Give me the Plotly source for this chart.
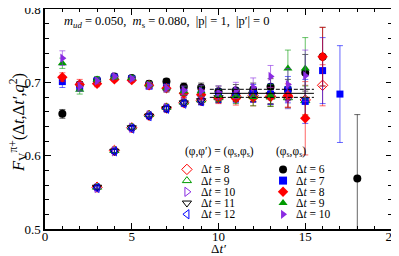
import plotly.graph_objects as go

# ---------------- data ----------------
# filled symbols: (phi_s, phi_s), various Delta t
x_dt6 = [1, 2, 3, 4, 5, 6, 7, 8, 9, 10, 11, 12, 13, 14, 15, 16, 18]
y_dt6 = [0.657, 0.697, 0.703, 0.708, 0.706, 0.698, 0.701, 0.694, 0.693, 0.688, 0.689, 0.690, 0.694, 0.690, 0.713, 0.735, 0.569]
e_dt6 = [0.006, 0.004, 0.003, 0.003, 0.003, 0.004, 0.004, 0.005, 0.006, 0.007, 0.008, 0.009, 0.011, 0.014, 0.025, 0.040, 0.087]

x_dt7 = [1, 2, 3, 4, 5, 6, 7, 8, 9, 10, 11, 12, 13, 14, 15, 16, 17]
y_dt7 = [0.701, 0.693, 0.702, 0.707, 0.705, 0.695, 0.693, 0.686, 0.684, 0.683, 0.682, 0.685, 0.684, 0.690, 0.674, 0.716, 0.684]
e_dt7 = [0.008, 0.005, 0.004, 0.003, 0.003, 0.004, 0.005, 0.006, 0.007, 0.008, 0.010, 0.012, 0.014, 0.018, 0.030, 0.045, 0.066]

x_dt8 = [1, 2, 3, 4, 5, 6, 7, 8, 9, 10, 11, 12, 13, 14, 15, 16]
y_dt8 = [0.707, 0.697, 0.698, 0.704, 0.703, 0.696, 0.692, 0.685, 0.683, 0.679, 0.678, 0.679, 0.680, 0.682, 0.651, 0.735]
e_dt8 = [0.006, 0.007, 0.004, 0.003, 0.003, 0.004, 0.005, 0.006, 0.007, 0.008, 0.009, 0.011, 0.013, 0.016, 0.050, 0.040]

x_dt9 = [1, 2, 3, 4, 5, 6, 7, 8, 9, 10, 11, 12, 13, 14, 15]
y_dt9 = [0.726, 0.690, 0.704, 0.707, 0.706, 0.697, 0.692, 0.688, 0.688, 0.682, 0.681, 0.680, 0.682, 0.719, 0.719]
e_dt9 = [0.007, 0.006, 0.004, 0.003, 0.003, 0.004, 0.005, 0.006, 0.007, 0.008, 0.010, 0.012, 0.015, 0.025, 0.042]

x_dt10 = [1, 2, 3, 4, 5, 6, 7, 8, 9, 10, 11, 12, 13, 14, 15]
y_dt10 = [0.733, 0.694, 0.702, 0.708, 0.705, 0.696, 0.692, 0.689, 0.688, 0.686, 0.689, 0.693, 0.708, 0.697, 0.709]
e_dt10 = [0.010, 0.006, 0.004, 0.003, 0.003, 0.004, 0.005, 0.006, 0.008, 0.009, 0.011, 0.013, 0.015, 0.022, 0.035]

# open symbols: (phi, phi') = (phi_s, phi_s)
x_o8 = [3, 4, 5, 6, 7, 8, 9, 10, 11, 12, 13, 14, 15, 16]
y_o8 = [0.557, 0.607, 0.638, 0.655, 0.665, 0.672, 0.675, 0.679, 0.681, 0.682, 0.681, 0.680, 0.676, 0.696]
e_o8 = [0.003, 0.003, 0.003, 0.003, 0.004, 0.004, 0.005, 0.006, 0.007, 0.009, 0.011, 0.014, 0.020, 0.028]

x_o9 = [3, 4, 5, 6, 7, 8, 9, 10, 11, 12, 13, 14, 15]
y_o9 = [0.557, 0.607, 0.639, 0.656, 0.666, 0.673, 0.676, 0.679, 0.682, 0.683, 0.680, 0.679, 0.675]
e_o9 = [0.003, 0.003, 0.003, 0.003, 0.004, 0.004, 0.005, 0.006, 0.007, 0.009, 0.011, 0.014, 0.020]

x_o10 = [3, 4, 5, 6, 7, 8, 9, 10, 11, 12, 13, 14]
y_o10 = [0.556, 0.606, 0.638, 0.655, 0.665, 0.673, 0.676, 0.680, 0.683, 0.684, 0.682, 0.679]
e_o10 = [0.003, 0.003, 0.003, 0.003, 0.004, 0.004, 0.005, 0.006, 0.008, 0.010, 0.012, 0.015]

x_o11 = [3, 4, 5, 6, 7, 8, 9, 10, 11, 12, 13]
y_o11 = [0.557, 0.606, 0.638, 0.654, 0.664, 0.672, 0.675, 0.679, 0.682, 0.684, 0.683]
e_o11 = [0.003, 0.003, 0.003, 0.003, 0.004, 0.004, 0.005, 0.006, 0.008, 0.010, 0.012]

x_o12 = [3, 4, 5, 6, 7, 8, 9, 10, 11, 12]
y_o12 = [0.556, 0.606, 0.637, 0.654, 0.664, 0.671, 0.674, 0.678, 0.681, 0.683]
e_o12 = [0.003, 0.003, 0.003, 0.003, 0.004, 0.004, 0.005, 0.006, 0.008, 0.010]

# fit band
fit_x = [9.5, 15.5]
fit_val = 0.685
fit_err = 0.0055

x_ticks = [0, 5, 10, 15, 20]
y_ticks = [0.5, 0.6, 0.7, 0.8]

FONT = "Liberation Serif, Times New Roman, serif"
RED, GREEN, BLUE, VIOLET, BLACK = "#ff0000", "#009a00", "#0000ff", "#8a2be2", "#000000"

def rgba(hexc, a):
    h = hexc.lstrip("#")
    return "rgba(%d,%d,%d,%.2f)" % (int(h[0:2], 16), int(h[2:4], 16), int(h[4:6], 16), a)

fig = go.Figure()

def add_series(x, y, e, color, symbol, size, open_sym=False):
    fig.add_trace(go.Scatter(
        x=x, y=y, mode="markers", showlegend=False,
        error_y=dict(type="data", array=e, color=rgba(color, 0.6), thickness=1, width=3),
        marker=dict(symbol=symbol, size=size, color=color,
                    line=dict(color=color, width=1 if open_sym else 0)),
    ))

open_series = [
    (x_o8, y_o8, e_o8, RED, "diamond-open", 8),
    (x_o9, y_o9, e_o9, GREEN, "triangle-up-open", 8),
    (x_o10, y_o10, e_o10, VIOLET, "triangle-right-open", 8),
    (x_o11, y_o11, e_o11, BLACK, "triangle-down-open", 8),
    (x_o12, y_o12, e_o12, BLUE, "triangle-left-open", 8),
]
filled_series = [
    (x_dt6, y_dt6, e_dt6, BLACK, "circle", 8),
    (x_dt7, y_dt7, e_dt7, BLUE, "square", 7),
    (x_dt8, y_dt8, e_dt8, RED, "diamond", 8),
    (x_dt9, y_dt9, e_dt9, GREEN, "triangle-up", 8),
    (x_dt10, y_dt10, e_dt10, VIOLET, "triangle-right", 8),
]
for s in open_series:
    add_series(*s, open_sym=True)
for s in filled_series:
    add_series(*s)

# fit band lines
fig.add_trace(go.Scatter(x=fit_x, y=[fit_val, fit_val], mode="lines",
                         line=dict(color="black", width=1), showlegend=False))
for sgn in (1, -1):
    fig.add_trace(go.Scatter(x=fit_x, y=[fit_val + sgn * fit_err] * 2, mode="lines",
                             line=dict(color="black", width=1, dash="4px,2px"), showlegend=False))

# ---------------- manual legend (layout positions) ----------------
LEG_HEAD_Y = 0.6053
LEG_ROW0_Y = 0.5813
LEG_DY = 0.0153
C1_MARK, C1_TEXT = 8.18, 8.85
C2_MARK, C2_TEXT = 13.72, 14.35
open_labels = ["8", "9", "10", "11", "12"]
filled_labels = ["6", "7", "8", "9", "10"]
LEG_FONT = dict(family=FONT, size=11.5, color="black")

annotations = []
for i, (s, lab) in enumerate(zip(open_series, open_labels)):
    yy = LEG_ROW0_Y - i * LEG_DY
    fig.add_trace(go.Scatter(x=[C1_MARK], y=[yy], mode="markers", showlegend=False,
                             marker=dict(symbol=s[4], size=8, color=s[3],
                                         line=dict(color=s[3], width=1))))
    annotations.append(dict(x=C1_TEXT, y=yy, xref="x", yref="y", text="Δ<i>t</i> = " + lab,
                            showarrow=False, xanchor="left", yanchor="middle", font=LEG_FONT))
for i, (s, lab) in enumerate(zip(filled_series, filled_labels)):
    yy = LEG_ROW0_Y - i * LEG_DY
    fig.add_trace(go.Scatter(x=[C2_MARK], y=[yy], mode="markers", showlegend=False,
                             marker=dict(symbol=s[4], size=8, color=s[3])))
    annotations.append(dict(x=C2_TEXT, y=yy, xref="x", yref="y", text="Δ<i>t</i> = " + lab,
                            showarrow=False, xanchor="left", yanchor="middle", font=LEG_FONT))
annotations.append(dict(x=7.95, y=LEG_HEAD_Y, xref="x", yref="y",
                        text="(φ,φ′) = (φ<sub>s</sub>,φ<sub>s</sub>)",
                        showarrow=False, xanchor="left", yanchor="middle", font=LEG_FONT))
annotations.append(dict(x=13.2, y=LEG_HEAD_Y, xref="x", yref="y",
                        text="(φ<sub>s</sub>,φ<sub>s</sub>)",
                        showarrow=False, xanchor="left", yanchor="middle", font=LEG_FONT))
# top label
annotations.append(dict(x=0.048, y=0.94, xref="paper", yref="paper",
                        text="<i>m</i><sub><i>ud</i></sub> = 0.050,\u00a0\u00a0<i>m</i><sub>s</sub> = 0.080,\u00a0\u00a0|p| = 1,\u00a0\u00a0|p′| = 0",
                        showarrow=False, xanchor="left", yanchor="middle",
                        font=dict(family=FONT, size=12.5, color="black")))
# axis titles
annotations.append(dict(x=0.5, y=-0.087, xref="paper", yref="paper", text="Δ<i>t′</i>",
                        showarrow=False, xanchor="center", yanchor="middle",
                        font=dict(family=FONT, size=13, color="black")))
annotations.append(dict(x=-0.078, y=0.486, xref="paper", yref="paper", textangle=-90,
                        text="<i>F</i><sub>V</sub><sup>π+</sup>(Δ<i>t</i>,Δ<i>t′</i>,<i>q</i><sup>2</sup>)",
                        showarrow=False, xanchor="center", yanchor="middle",
                        font=dict(family=FONT, size=16.5, color="black")))

axis_common = dict(showgrid=False, zeroline=False, showline=True, linecolor="black", linewidth=1.5,
                   mirror="allticks", ticks="inside", ticklen=6, tickwidth=1, tickcolor="black",
                   automargin=False, ticklabeloverflow="allow",
                   tickfont=dict(family=FONT, size=13, color="black"))

# the page body adds an 8px offset; figure sized to the visible area
fig.update_layout(
    width=391, height=248,
    margin=dict(l=37, r=7, t=1, b=27, autoexpand=False),
    paper_bgcolor="white", plot_bgcolor="white",
    font=dict(family=FONT, color="black"),
    annotations=annotations,
    xaxis=dict(range=[0, 20], tickvals=x_ticks, ticktext=[str(v) for v in x_ticks],
               ticklabelstandoff=-5,
               minor=dict(dtick=1, tick0=0, ticks="inside", ticklen=3, tickcolor="black"),
               **axis_common),
    yaxis=dict(range=[0.5, 0.8], tickvals=y_ticks, ticktext=["%.1f" % v for v in y_ticks],
               minor=dict(dtick=0.02, tick0=0.5, ticks="inside", ticklen=4, tickcolor="black"),
               **axis_common),
)

fig.write_html("out.html")
